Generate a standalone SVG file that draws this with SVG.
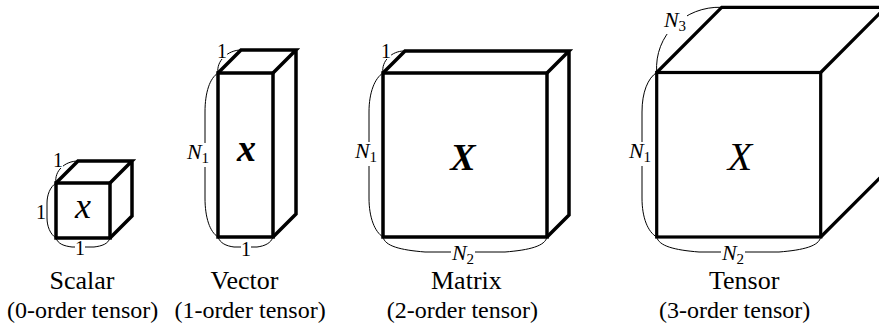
<svg xmlns="http://www.w3.org/2000/svg" width="879" height="329" viewBox="0 0 879 329">
<rect width="879" height="329" fill="#fff"/>

<g id="connectors" fill="none" stroke="#000" stroke-width="1">
  <path d="M56,183 C54,171 65,161 78,161"/>
  <path d="M56,183 C50,187 47,195 47,203 L47,218 C47,226 50,234 56,238"/>
  <path d="M56,238 C58,244 64,246 72,247 L94,247 C102,246 108,244 110,238"/>
  <path d="M218,73 C216,61 228,50 241,50"/>
  <path d="M218,73 C210,78 205,92 205,112 L205,198 C205,218 210,232 218,237"/>
  <path d="M218,237 C220,243 226,246 234,247 L257,247 C265,246 271,243 273,237"/>
  <path d="M383,73 C381,61 392,51 404,51"/>
  <path d="M383,73 C375,78 369,92 369,112 L369,198 C369,218 375,232 383,237"/>
  <path d="M383,237 C385,246 400,250 425,252 L505,252 C530,250 545,246 547,237"/>
  <path d="M656.7,72.5 C654,35 685,6 721.7,7.3"/>
  <path d="M656.7,72.5 C648,78 642,92 642,112 L642,198 C642,218 648,232 656.7,237"/>
  <path d="M656.7,237 C659,246 674,250 699,252 L779,252 C804,250 819,246 820.7,237"/>
</g>

<g id="label-masks" fill="#fff">
  <rect x="53" y="153" width="10" height="15"/>
  <rect x="36" y="205" width="10" height="15"/>
  <rect x="75" y="242" width="10" height="14"/>
  <rect x="217" y="44" width="10" height="15"/>
  <rect x="186" y="143" width="24" height="24"/>
  <rect x="241" y="243" width="10" height="14"/>
  <rect x="381" y="44" width="10" height="15"/>
  <rect x="354" y="142" width="24" height="24"/>
  <rect x="451" y="245" width="24" height="22"/>
  <rect x="663" y="11" width="24" height="23"/>
  <rect x="628" y="142" width="24" height="24"/>
  <rect x="721" y="245" width="24" height="22"/>
</g>

<g id="scalar">
  <g fill="none" stroke="#000" stroke-width="3.5">
    <rect x="56" y="183" width="54" height="55"/>
    <path d="M56,183 L78,161 L132,161 L110,183 M132,161 L132,216 L110,238"/>
  </g>
  <text x="75" y="218" font-size="36" font-style="italic" font-family="Liberation Serif">x</text>
  <text x="53" y="167" font-size="20" font-family="Liberation Serif">1</text>
  <text x="36" y="219" font-size="20" font-family="Liberation Serif">1</text>
  <text x="75" y="255" font-size="20" font-family="Liberation Serif">1</text>
  <text x="49.5" y="289" font-size="26" font-family="Liberation Serif">Scalar</text>
  <text x="7" y="318" font-size="24" font-family="Liberation Serif">(0-order tensor)</text>
</g>

<g id="vector">
  <g fill="none" stroke="#000" stroke-width="3.5">
    <rect x="218" y="73" width="55" height="164"/>
    <path d="M218,73 L241,50 L296,50 L273,73 M296,50 L296,214 L273,237"/>
  </g>
  <text x="237" y="161" font-size="38" font-style="italic" font-weight="bold" font-family="Liberation Serif">x</text>
  <text x="217" y="58" font-size="20" font-family="Liberation Serif">1</text>
  <text x="187" y="159" font-size="22" font-style="italic" font-family="Liberation Serif">N</text>
  <text x="201.6" y="163" font-size="15" font-family="Liberation Serif">1</text>
  <text x="241" y="256" font-size="20" font-family="Liberation Serif">1</text>
  <text x="210.6" y="289" font-size="26" font-family="Liberation Serif">Vector</text>
  <text x="174.4" y="318" font-size="24" font-family="Liberation Serif">(1-order tensor)</text>
</g>

<g id="matrix">
  <g fill="none" stroke="#000" stroke-width="3.5">
    <rect x="383" y="73" width="164" height="164"/>
    <path d="M383,73 L405,51 L569,51 L547,73 M569,51 L569,215 L547,237"/>
  </g>
  <text x="450.3" y="170" font-size="38" font-style="italic" font-weight="bold" font-family="Liberation Serif">X</text>
  <text x="381" y="58" font-size="20" font-family="Liberation Serif">1</text>
  <text x="355" y="158" font-size="22" font-style="italic" font-family="Liberation Serif">N</text>
  <text x="369.6" y="162" font-size="15" font-family="Liberation Serif">1</text>
  <text x="452" y="260" font-size="22" font-style="italic" font-family="Liberation Serif">N</text>
  <text x="466.6" y="264" font-size="15" font-family="Liberation Serif">2</text>
  <text x="431" y="289" font-size="26" font-family="Liberation Serif">Matrix</text>
  <text x="386.8" y="318" font-size="24" font-family="Liberation Serif">(2-order tensor)</text>
</g>

<g id="tensor">
  <g fill="none" stroke="#000" stroke-width="3.2">
    <rect x="656.7" y="72.5" width="164" height="164.5"/>
    <path d="M656.7,72.5 L721.7,7.3 L885.7,7.3 L820.7,72.5 M885.7,7.3 L885.7,172 L820.7,237"/>
  </g>
  <text x="727.8" y="170" font-size="40" font-style="italic" font-family="Liberation Serif">X</text>
  <text x="664" y="27" font-size="22" font-style="italic" font-family="Liberation Serif">N</text>
  <text x="678.6" y="31" font-size="15" font-family="Liberation Serif">3</text>
  <text x="629" y="158" font-size="22" font-style="italic" font-family="Liberation Serif">N</text>
  <text x="643.6" y="162" font-size="15" font-family="Liberation Serif">1</text>
  <text x="722" y="260" font-size="22" font-style="italic" font-family="Liberation Serif">N</text>
  <text x="736.6" y="264" font-size="15" font-family="Liberation Serif">2</text>
  <text x="709" y="289" font-size="26" font-family="Liberation Serif">Tensor</text>
  <text x="659" y="318" font-size="24" font-family="Liberation Serif">(3-order tensor)</text>
</g>
</svg>
